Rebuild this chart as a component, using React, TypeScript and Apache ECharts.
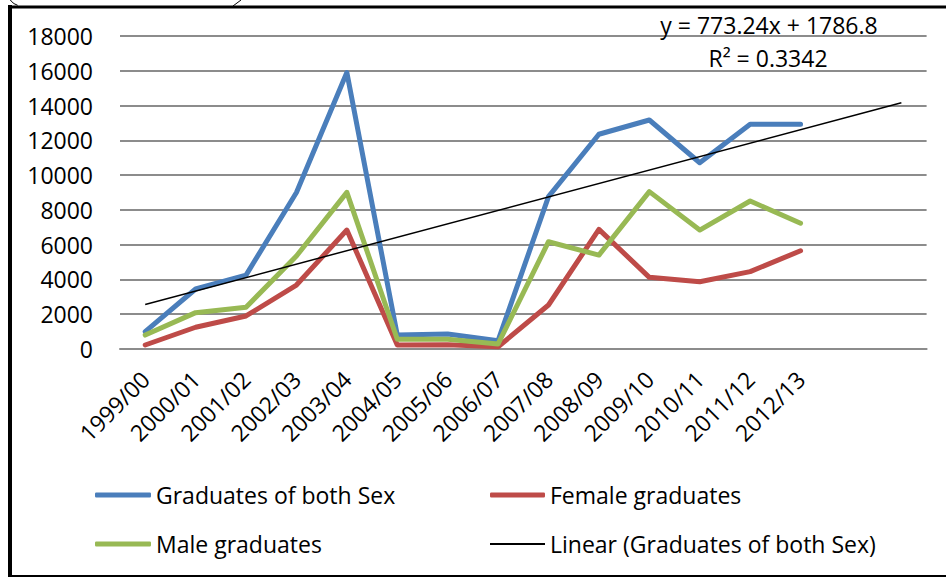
import React, { useEffect, useRef } from "react";
import * as echarts from "echarts";

const categories = [
  "1999/00", "2000/01", "2001/02", "2002/03", "2003/04", "2004/05", "2005/06",
  "2006/07", "2007/08", "2008/09", "2009/10", "2010/11", "2011/12", "2012/13", "", "",
];
const bothSex = [1000, 3450, 4250, 9000, 15900, 800, 860, 480, 8760, 12350, 13170, 10710, 12920, 12920];
const female = [230, 1250, 1900, 3680, 6840, 230, 250, 130, 2530, 6880, 4120, 3870, 4450, 5650];
const male = [800, 2090, 2400, 5350, 9010, 560, 560, 290, 6170, 5400, 9050, 6840, 8510, 7230];
// Linear trendline y = 773.24x + 1786.8 at x = 1 and x = 16 (2 periods forecast)
const trendPoints: [number, number][] = [
  [0, 2560.04],
  [15, 14158.64],
];
const equationText = "y = 773.24x + 1786.8";
const r2Text = "R² = 0.3342";

const FONT = "Open Sans";
const FS = 23;

export default function App() {
  const ref = useRef<HTMLDivElement>(null);
  useEffect(() => {
    if (!ref.current) return;
    const chart = echarts.init(ref.current, null, { renderer: "svg" });
    const lineSeries = (name: string, data: any[], color: string) => ({
      name,
      type: "line",
      data,
      symbol: "none",
      lineStyle: { color, width: 5, cap: "round", join: "round" },
      itemStyle: { color },
    });
    const legendText = { fontSize: FS, fontFamily: FONT, color: "#000", lineHeight: 24 };
    chart.setOption({
      animation: false,
      textStyle: { fontFamily: FONT },
      grid: { left: 120, right: 19.4, top: 36, bottom: 230, containLabel: false },
      xAxis: {
        type: "category",
        data: categories,
        boundaryGap: true,
        axisLine: { show: true, lineStyle: { color: "#8c8c8c", width: 2 } },
        axisTick: { show: false },
        axisLabel: {
          interval: 0,
          rotate: 45,
          margin: 26,
          color: "#000",
          fontSize: FS,
          fontFamily: FONT,
        },
      },
      yAxis: {
        type: "value",
        min: 0,
        max: 18000,
        interval: 2000,
        axisLine: { show: false },
        axisTick: { show: false },
        splitLine: { lineStyle: { color: "#8c8c8c", width: 2 } },
        axisLabel: {
          margin: 27,
          color: "#000",
          fontSize: FS,
          fontFamily: FONT,
          formatter: (v: number) => String(v),
        },
      },
      legend: [
        {
          orient: "vertical",
          left: 90,
          top: 478,
          icon: "roundRect",
          itemWidth: 56,
          itemHeight: 5,
          itemGap: 25,
          textStyle: legendText,
          data: ["Graduates of both Sex", "Male graduates"],
        },
        {
          orient: "vertical",
          left: 485,
          top: 478,
          icon: "roundRect",
          itemWidth: 55,
          itemHeight: 5,
          textStyle: legendText,
          data: ["Female graduates"],
        },
        {
          orient: "vertical",
          left: 485,
          top: 527,
          icon: "rect",
          itemWidth: 55,
          itemHeight: 2,
          textStyle: legendText,
          data: ["Linear (Graduates of both Sex)"],
        },
      ],
      series: [
        lineSeries("Graduates of both Sex", bothSex, "#4a7ebb"),
        lineSeries("Female graduates", female, "#be4b48"),
        lineSeries("Male graduates", male, "#98b954"),
        {
          name: "Linear (Graduates of both Sex)",
          type: "line",
          data: trendPoints,
          symbol: "none",
          lineStyle: { color: "#000", width: 1.5 },
          itemStyle: { color: "#000" },
          z: 5,
        },
      ],
      graphic: [
        {
          type: "text",
          x: 769,
          y: 25,
          z: 100,
          style: {
            text: equationText,
            fontSize: FS,
            fontFamily: FONT,
            fill: "#000",
            textAlign: "center",
            textVerticalAlign: "middle",
          },
        },
        {
          type: "text",
          x: 768,
          y: 58,
          z: 100,
          style: {
            text: r2Text,
            fontSize: FS,
            fontFamily: FONT,
            fill: "#000",
            textAlign: "center",
            textVerticalAlign: "middle",
          },
        },
        { type: "line", shape: { x1: 10, y1: 5, x2: 10, y2: 577 }, style: { stroke: "#000", lineWidth: 4 } },
        { type: "line", shape: { x1: 8, y1: 7, x2: 946, y2: 7 }, style: { stroke: "#000", lineWidth: 3 } },
        { type: "line", shape: { x1: 8, y1: 576, x2: 946, y2: 576 }, style: { stroke: "#000", lineWidth: 2 } },
        { type: "arc", shape: { cx: 22, cy: -8, r: 14, startAngle: Math.PI * 0.6, endAngle: Math.PI * 0.95 }, style: { stroke: "#000", lineWidth: 1, fill: "none" } },
        { type: "line", shape: { x1: 233, y1: 6, x2: 241, y2: 0 }, style: { stroke: "#000", lineWidth: 1 } },
      ],
    });
    return () => chart.dispose();
  }, []);
  return (
    <div
      ref={ref}
      style={{ position: "fixed", left: 0, top: 0, width: 946, height: 579, background: "#fff" }}
    />
  );
}
